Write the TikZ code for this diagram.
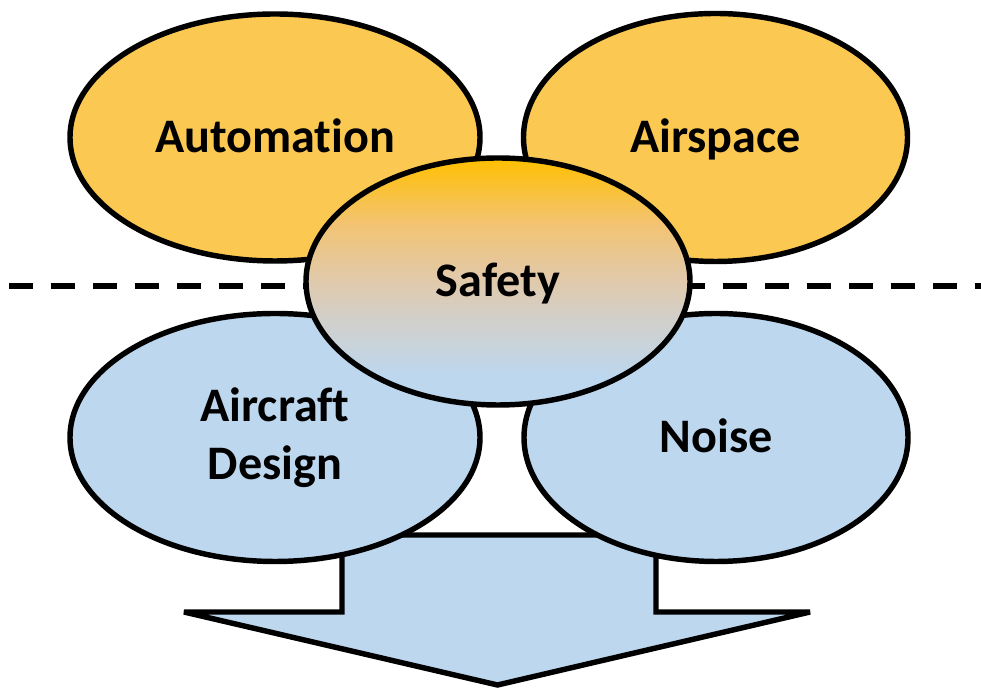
\documentclass[tikz,border=0pt]{standalone}
\usepackage{fontspec}
\setmainfont{Carlito}[Ligatures=NoCommon]
\usepackage{xcolor}
\usepackage{tikz}
\usetikzlibrary{shapes.geometric}
\definecolor{Amber}{HTML}{FBC852}
\definecolor{Sky}{HTML}{BDD7EE}
\definecolor{Honey}{HTML}{FFC000}
\definecolor{Mist}{HTML}{D3CFC8}
\definecolor{Sand}{HTML}{E2C9A8}
\definecolor{Apricot}{HTML}{F3C370}
\pgfdeclareverticalshading{safetyfade}{100bp}{color(0bp)=(Sky); color(25bp)=(Sky); color(31bp)=(Sky);
  color(43bp)=(Mist); color(51bp)=(Sand); color(62bp)=(Apricot); color(75bp)=(Honey); color(100bp)=(Honey)}

\begin{document}
\begin{tikzpicture}[font=\fontsize{27.4pt}{33pt}\selectfont\bfseries,
  topic/.style={draw,line width=3.1pt,ellipse,align=center,inner sep=0pt},
  oneline/.style={text height=19.6pt,text depth=2.4pt}]
  \useasboundingbox (0,0) rectangle (19.62,13.8);
  % block arrow, half hidden by the lower ellipses
  \draw[line width=3.1pt,miter limit=2,fill=Sky] (6.84,3.1) -- (6.84,1.56) -- (3.68,1.56) -- (9.95,0.1)
    -- (16.2,1.56) -- (13.12,1.56) -- (13.12,3.1) -- cycle;
  \node[topic,oneline,fill=Amber,minimum width=8.2cm,minimum height=4.94cm] (automation) at (5.5,11.05) {Automation};
  \node[topic,oneline,fill=Amber,minimum width=7.68cm,minimum height=4.96cm] (airspace) at (14.31,11.05) {Airspace};
  \node[topic,fill=Sky,minimum width=8.2cm,minimum height=4.96cm] (design) at (5.5,5.05) {Aircraft\\Design};
  \node[topic,oneline,fill=Sky,minimum width=7.68cm,minimum height=4.96cm] (noise) at (14.32,5.05) {Noise};
  % divider
  \coordinate (divleft) at (0.18,8.08);
  \coordinate (divright) at (19.62,8.08);
  \draw[line width=3.1pt,dash pattern=on 0.48cm off 0.36cm] (divleft) -- (divright);
  \node[topic,oneline,shading=safetyfade,minimum width=7.68cm,minimum height=4.94cm] (safety) at (9.96,8.17) {Safety};
\end{tikzpicture}
\end{document}
